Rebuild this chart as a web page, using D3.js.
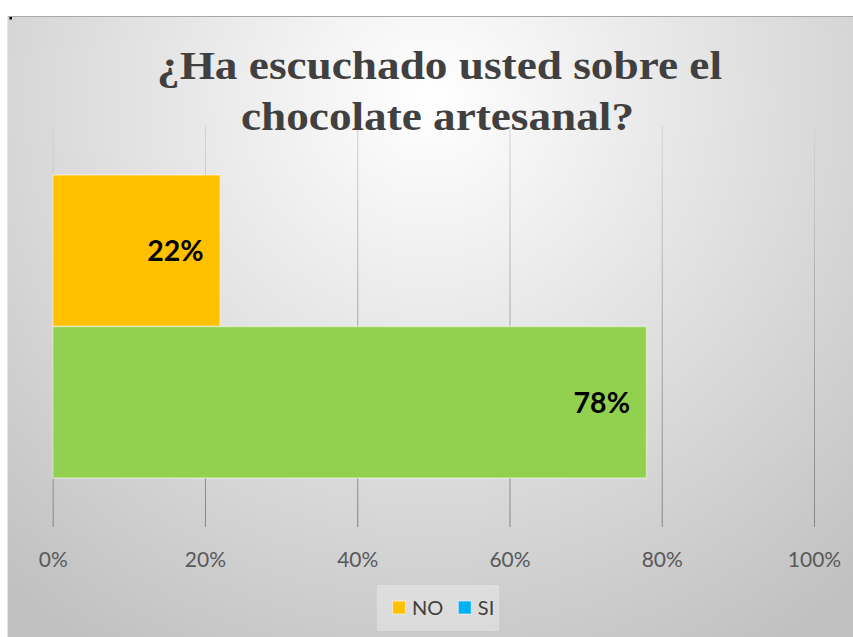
<!DOCTYPE html>
<html>
<head>
<meta charset="utf-8">
<script src="https://cdn.jsdelivr.net/npm/d3@7"></script>
<style>
  html, body { margin: 0; padding: 0; background: #ffffff; }
  svg { display: block; }
</style>
</head>
<body>
<svg id="chart" width="853" height="637"></svg>
<script>
// Survey answers (percent of respondents)
const series = ["NO", "SI"];
const values = [22, 78];
const barColors = ["#FFC000", "#92D050"];
const legendColors = ["#FFC000", "#00B0F0"];
const tickValues = [0, 20, 40, 60, 80, 100];
const titleLines = ["¿Ha escuchado usted sobre el", "chocolate artesanal?"];

const W = 853, H = 637;
const panel = { left: 8, top: 16.5, right: 853, bottom: 637 };
const plot = { left: 52.7, right: 814, top: 126, bottom: 527 };

const svg = d3.select("#chart");
const defs = svg.append("defs");

// Soft radial backdrop, brightest behind the title
const bg = defs.append("radialGradient")
  .attr("id", "bgGrad")
  .attr("gradientUnits", "userSpaceOnUse")
  .attr("cx", 430).attr("cy", 100).attr("r", 650);
bg.append("stop").attr("offset", 0).attr("stop-color", "#ffffff");
bg.append("stop").attr("offset", 1).attr("stop-color", "#c0c0c0");

// Gridlines fade from light at the top to darker near the axis
const gg = defs.append("linearGradient")
  .attr("id", "gridGrad")
  .attr("gradientUnits", "userSpaceOnUse")
  .attr("x1", 0).attr("x2", 0)
  .attr("y1", -(plot.bottom - plot.top)).attr("y2", 0);
gg.append("stop").attr("offset", 0).attr("stop-color", "#d4d4d4");
gg.append("stop").attr("offset", 0.5).attr("stop-color", "#a8a8a8");
gg.append("stop").attr("offset", 1).attr("stop-color", "#858585");

svg.append("rect")
  .attr("x", panel.left).attr("y", panel.top)
  .attr("width", panel.right - panel.left).attr("height", panel.bottom - panel.top)
  .attr("fill", "url(#bgGrad)");

// Frame edges
svg.append("line")
  .attr("x1", panel.left).attr("x2", panel.right)
  .attr("y1", panel.top).attr("y2", panel.top)
  .attr("stroke", "#a9a9a9").attr("stroke-width", 1);
svg.append("line")
  .attr("x1", panel.left - 0.5).attr("x2", panel.left - 0.5)
  .attr("y1", panel.top).attr("y2", panel.bottom)
  .attr("stroke", "#e4e4e4").attr("stroke-width", 1);
svg.append("rect")
  .attr("x", 9.5).attr("y", 17).attr("width", 2.5).attr("height", 2.5)
  .attr("fill", "#000");

// Scales
const x = d3.scaleLinear().domain([0, 100]).range([plot.left, plot.right]);
const y = d3.scaleBand().domain(series)
  .range([plot.top, plot.bottom])
  .paddingInner(0).paddingOuter(0.323);

// Axis with full-height gridlines
const axis = svg.append("g")
  .attr("transform", `translate(0,${plot.bottom})`)
  .call(d3.axisBottom(x)
    .tickValues(tickValues)
    .tickFormat(d => d + "%")
    .tickSize(-(plot.bottom - plot.top))
    .tickPadding(0));
axis.select(".domain").remove();
axis.selectAll(".tick line")
  .attr("stroke", "url(#gridGrad)")
  .attr("stroke-width", 1);
axis.selectAll(".tick text")
  .attr("y", 40).attr("dy", 0)
  .attr("fill", "#595959")
  .style("font-family", "Lato, 'Open Sans', sans-serif")
  .style("font-size", "21px");

// Bars
const rows = series.map((s, i) => ({ name: s, value: values[i], color: barColors[i] }));
svg.append("g").selectAll("rect")
  .data(rows)
  .join("rect")
  .attr("x", x(0))
  .attr("y", d => y(d.name))
  .attr("width", d => x(d.value) - x(0))
  .attr("height", y.bandwidth())
  .attr("fill", d => d.color)
  .attr("stroke", "rgba(255,255,255,0.45)")
  .attr("stroke-width", 1.5);

// Value labels inside bar ends
svg.append("g").selectAll("text")
  .data(rows)
  .join("text")
  .attr("x", d => x(d.value) - 16.5)
  .attr("y", d => y(d.name) + y.bandwidth() / 2 + 10.5)
  .attr("text-anchor", "end")
  .attr("fill", "#000")
  .style("font-family", "Lato, 'Open Sans', sans-serif")
  .style("font-weight", "bold")
  .style("font-size", "28.5px")
  .text(d => d.value + "%");

// Title
const titleSpecs = [
  { text: titleLines[0], cx: 439.5, base: 79, width: 565 },
  { text: titleLines[1], cx: 437.5, base: 130, width: 393 }
];
svg.append("g").selectAll("text")
  .data(titleSpecs)
  .join("text")
  .attr("x", d => d.cx)
  .attr("y", d => d.base)
  .attr("text-anchor", "middle")
  .attr("textLength", d => d.width)
  .attr("lengthAdjust", "spacingAndGlyphs")
  .attr("fill", "#404040")
  .style("font-family", "'Liberation Serif', 'Times New Roman', serif")
  .style("font-weight", "bold")
  .style("font-size", "39px")
  .text(d => d.text);

// Legend
const legend = svg.append("g");
legend.append("rect")
  .attr("x", 377).attr("y", 585)
  .attr("width", 122).attr("height", 46)
  .attr("fill", "rgba(255,255,255,0.3)");
let lx = 392.5;
series.forEach((s, i) => {
  legend.append("rect")
    .attr("x", lx).attr("y", 601)
    .attr("width", 13).attr("height", 13)
    .attr("fill", legendColors[i])
    .attr("stroke", "rgba(255,255,255,0.5)")
    .attr("stroke-width", 1.2);
  const t = legend.append("text")
    .attr("x", lx + 19.5).attr("y", 615)
    .attr("fill", "#404040")
    .style("font-family", "Lato, 'Open Sans', sans-serif")
    .style("font-size", "20px")
    .text(s);
  lx += 19.5 + t.node().getComputedTextLength() + 15;
});
</script>
</body>
</html>
